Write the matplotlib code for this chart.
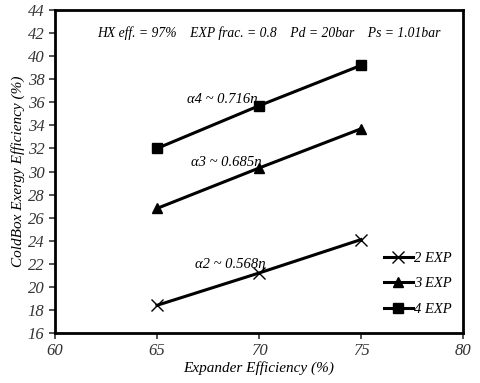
import matplotlib
matplotlib.use("Agg")
import matplotlib.pyplot as plt

# datos
eficiencia_exp = [65, 70, 75]
exp2 = [18.4, 21.2, 24.1]
exp3 = [26.8, 30.3, 33.7]
exp4 = [32.0, 35.7, 39.2]
etiquetas = ["2 EXP", "3 EXP", "4 EXP"]

plt.rcParams["font.family"] = ["Liberation Serif", "DejaVu Serif"]
plt.rcParams["font.style"] = "italic"

fig = plt.figure(figsize=(4.8, 3.83), dpi=100)
ax = fig.add_axes([55 / 480, 50 / 383, 408 / 480, 323 / 383])

ax.plot(eficiencia_exp, exp2, color="black", lw=2.2, marker="x", ms=8, mew=1, label=etiquetas[0])
ax.plot(eficiencia_exp, exp3, color="black", lw=2.2, marker="^", ms=7, label=etiquetas[1])
ax.plot(eficiencia_exp, exp4, color="black", lw=2.2, marker="s", ms=7, label=etiquetas[2])

ax.set_xlim(60, 80)
ax.set_ylim(16, 44)
ax.set_xticks([60, 65, 70, 75, 80])
ax.set_yticks(range(16, 45, 2))
ax.tick_params(labelsize=12, direction="out", length=4, width=1.2, colors="#333333")
ax.tick_params(axis="x", pad=3)
for s in ax.spines.values():
    s.set_linewidth(2)

ax.set_xlabel("Expander Efficiency (%)", fontsize=11, labelpad=2)
ax.set_ylabel("ColdBox Exergy Efficiency (%)", fontsize=11, labelpad=2)

ax.text(0.525, 0.928, "HX eff. = 97%    EXP frac. = 0.8    Pd = 20bar    Ps = 1.01bar",
        transform=ax.transAxes, ha="center", va="center", fontsize=9.8)
ax.text(66.45, 36.2, "α4 ~ 0.716η", fontsize=10.5, va="center")
ax.text(66.65, 30.8, "α3 ~ 0.685η", fontsize=10.5, va="center")
ax.text(66.85, 21.9, "α2 ~ 0.568η", fontsize=10.5, va="center")

ax.legend(loc="lower right", bbox_to_anchor=(1.005, 0.012), frameon=False, fontsize=10.5,
          handlelength=2.0, handletextpad=0.1, labelspacing=0.85)

fig.savefig("out.png", dpi=100)
